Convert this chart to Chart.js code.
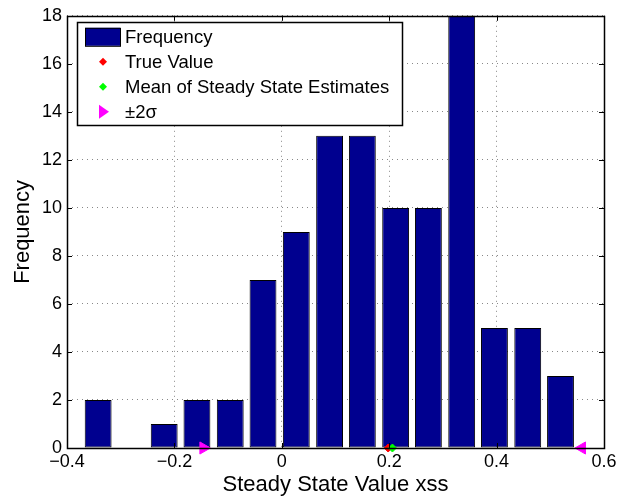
<!DOCTYPE html>
<html>
<head>
<meta charset="utf-8">
<script src="https://cdn.jsdelivr.net/npm/chart.js@4"></script>
<style>
  html, body { margin: 0; padding: 0; background: #fff; }
  #wrap { width: 627px; height: 498px; }
</style>
</head>
<body>
<div id="wrap"><canvas id="chart" width="627" height="498"></canvas></div>
<script>
// histogram bins (centres) and counts
const binCenters = [-0.342, -0.281, -0.219, -0.158, -0.096, -0.035, 0.027, 0.089, 0.150, 0.212, 0.273, 0.335, 0.396, 0.458, 0.519];
const counts = [2, 0, 1, 2, 2, 7, 9, 13, 13, 10, 10, 18, 5, 5, 3];
const trueValue = [0.198];
const meanEstimate = [0.206];
const sigmaBounds = [-0.146, 0.559];
const xTicks = [-0.4, -0.2, 0, 0.2, 0.4, 0.6];
const yTicks = [0, 2, 4, 6, 8, 10, 12, 14, 16, 18];

const font = 'Liberation Sans, Arial, Helvetica, sans-serif';
const chart = document.getElementById('chart');

const fmtTick = v => {
    if (Math.abs(v) < 1e-9) return '0';
    const s = Math.abs(v).toFixed(1);
    return (v < 0 ? '\u2212' : '') + s;
};

// MATLAB style box: black frame with short inward ticks on all sides
const boxPlugin = {
    id: 'box',
    afterDatasetsDraw(c) {
        const { ctx, chartArea: a, scales } = c;
        ctx.save();
        ctx.strokeStyle = '#000';
        ctx.lineWidth = 1;
        ctx.beginPath();
        xTicks.forEach(t => {
            const px = Math.round(scales.x.getPixelForValue(t)) + 0.5;
            ctx.moveTo(px, a.bottom); ctx.lineTo(px, a.bottom - 5);
            ctx.moveTo(px, a.top); ctx.lineTo(px, a.top + 5);
        });
        yTicks.forEach(t => {
            const py = Math.round(scales.y.getPixelForValue(t)) + 0.5;
            ctx.moveTo(a.left, py); ctx.lineTo(a.left + 5, py);
            ctx.moveTo(a.right, py); ctx.lineTo(a.right - 5, py);
        });
        ctx.stroke();
        ctx.lineWidth = 1.5;
        ctx.strokeRect(Math.round(a.left) + 0.5, Math.round(a.top) + 0.5, Math.round(a.right - a.left), Math.round(a.bottom - a.top));
        ctx.restore();
    }
};

// legend drawn inside the plot, upper left
const legendBox = {
    id: 'legendBox',
    afterDraw(c) {
        const { ctx, chartArea: a } = c;
        const x0 = a.left + 10, y0 = a.top + 6;
        const rowH = 25;
        ctx.save();
        ctx.font = '18.5px ' + font;
        const labels = c.data.datasets.map(d => d.label);
        const textW = Math.max(...labels.map(l => ctx.measureText(l).width));
        const w = 48 + textW + 13, h = rowH * labels.length + 3;
        ctx.fillStyle = '#fff';
        ctx.fillRect(x0, y0, w, h);
        ctx.strokeStyle = '#000';
        ctx.lineWidth = 1.5;
        ctx.strokeRect(Math.round(x0) + 0.5, Math.round(y0) + 0.5, Math.round(w), Math.round(h));
        ctx.lineWidth = 1;
        c.data.datasets.forEach((d, i) => {
            const cy = y0 + 15 + i * rowH;
            if (d.type === 'bar') {
                ctx.fillStyle = d.backgroundColor;
                ctx.fillRect(x0 + 8, cy - 9, 35, 18);
                ctx.strokeRect(x0 + 8.5, cy - 8.5, 35, 18);
            } else {
                const cx = x0 + 26;
                ctx.fillStyle = d.backgroundColor;
                ctx.beginPath();
                if (d.pointStyle === 'rectRot') {
                    ctx.moveTo(cx, cy - 4); ctx.lineTo(cx + 4, cy); ctx.lineTo(cx, cy + 4); ctx.lineTo(cx - 4, cy);
                } else {
                    ctx.moveTo(cx - 4, cy - 7); ctx.lineTo(cx + 6, cy); ctx.lineTo(cx - 4, cy + 7);
                }
                ctx.closePath();
                ctx.fill();
            }
            ctx.fillStyle = '#000';
            ctx.textBaseline = 'middle';
            ctx.fillText(d.label, x0 + 48, cy + 1);
        });
        ctx.restore();
    }
};

new Chart(chart.getContext('2d'), {
    type: 'bar',
    data: {
        datasets: [
            {
                type: 'bar',
                label: 'Frequency',
                data: binCenters.map((x, i) => ({ x, y: counts[i] })),
                backgroundColor: '#00008f',
                borderColor: '#000',
                borderWidth: 1,
                borderSkipped: false,
                barPercentage: 0.82,
                categoryPercentage: 1,
                order: 2
            },
            {
                type: 'scatter',
                label: 'True Value',
                data: trueValue.map(x => ({ x, y: 0 })),
                backgroundColor: '#ff0000',
                borderColor: '#ff0000',
                pointStyle: 'rectRot',
                pointRadius: 4,
                order: 1
            },
            {
                type: 'scatter',
                label: 'Mean of Steady State Estimates',
                data: meanEstimate.map(x => ({ x, y: 0 })),
                backgroundColor: '#00ff00',
                borderColor: '#00ff00',
                pointStyle: 'rectRot',
                pointRadius: 4,
                order: 0
            },
            {
                type: 'scatter',
                label: '\u00b12\u03c3',
                data: sigmaBounds.map(x => ({ x, y: 0 })),
                backgroundColor: '#ff00ff',
                borderColor: '#ff00ff',
                pointStyle: 'triangle',
                pointRotation: [90, -90],
                pointRadius: 7,
                order: 0
            }
        ]
    },
    options: {
        responsive: false,
        animation: false,
        clip: false,
        layout: { padding: { top: 14, right: 23, left: 0, bottom: 0 } },
        plugins: { legend: { display: false }, tooltip: { enabled: false } },
        scales: {
            x: {
                type: 'linear',
                offset: false,
                min: -0.4,
                max: 0.6,
                afterBuildTicks: s => { s.ticks = xTicks.map(v => ({ value: v })); },
                afterFit: s => { s.height = 50; },
                ticks: { callback: fmtTick, color: '#000', font: { size: 18, family: font }, padding: 3, maxRotation: 0 },
                grid: { color: '#888', lineWidth: 1, drawTicks: false, offset: false },
                border: { display: false, dash: [1, 4] },
                title: { display: true, text: 'Steady State Value xss', color: '#000', font: { size: 22, family: font }, padding: { top: 0, bottom: 0 } }
            },
            y: {
                min: 0,
                max: 18,
                afterBuildTicks: s => { s.ticks = yTicks.map(v => ({ value: v })); },
                afterFit: s => { s.width = 67; },
                ticks: { color: '#000', font: { size: 18, family: font }, padding: 5 },
                grid: { color: '#888', lineWidth: 1, drawTicks: false },
                border: { display: false, dash: [1, 4] },
                title: { display: true, text: 'Frequency', color: '#000', font: { size: 22, family: font }, padding: { top: 10, bottom: 0 } }
            }
        }
    },
    plugins: [boxPlugin, legendBox]
});
</script>
</body>
</html>
